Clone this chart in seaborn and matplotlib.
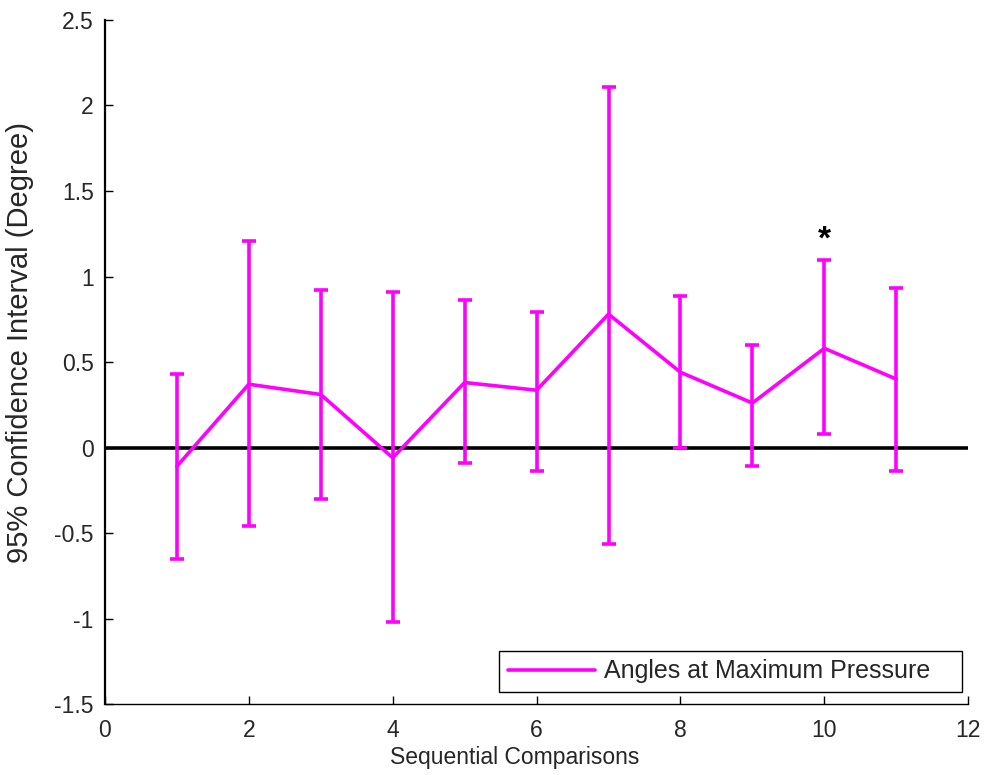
import matplotlib
matplotlib.use("Agg")
import matplotlib.pyplot as plt
import seaborn as sns
import pandas as pd

# Sequential comparison index and 95% CI of the angle difference
comparisons = [1, 2, 3, 4, 5, 6, 7, 8, 9, 10, 11]
mean_diff = [-0.11, 0.37, 0.31, -0.06, 0.38, 0.335, 0.78, 0.44, 0.26, 0.58, 0.40]
ci_upper = [0.43, 1.21, 0.92, 0.91, 0.86, 0.79, 2.11, 0.885, 0.60, 1.095, 0.93]
ci_lower = [-0.65, -0.46, -0.30, -1.02, -0.09, -0.135, -0.565, -0.005, -0.11, 0.08, -0.135]
significant = [10]

x_ticks = [0, 2, 4, 6, 8, 10, 12]
y_ticks = [-1.5, -1, -0.5, 0, 0.5, 1, 1.5, 2, 2.5]
series_label = "Angles at Maximum Pressure"

df = pd.DataFrame({"comparison": comparisons, "mean": mean_diff,
                   "upper": ci_upper, "lower": ci_lower})

sns.set_theme(style="ticks")
plt.rcParams["font.family"] = ["Liberation Sans", "DejaVu Sans"]

fig = plt.figure(figsize=(9.9, 7.75), dpi=100)
ax = fig.add_axes([0.106, 0.0916, 0.872, 0.8826])

magenta = "#FF00FF"

# zero reference line
ax.axhline(0, color="black", lw=2.6, zorder=2)

# confidence interval whiskers
yerr = [df["mean"] - df["lower"], df["upper"] - df["mean"]]
ax.errorbar(df["comparison"], df["mean"], yerr=yerr, fmt="none",
            ecolor=magenta, elinewidth=2.6, capsize=5, capthick=2.6, zorder=3)

# mean line
sns.lineplot(data=df, x="comparison", y="mean", color=magenta, lw=2.6,
             ax=ax, label=series_label, zorder=4)

# significance marker above the upper CI limit
for c in significant:
    row = df[df["comparison"] == c].iloc[0]
    ax.text(c, row["upper"] + 0.118, "*", ha="center", va="center",
            fontsize=24, fontweight="bold", color="black")

ax.set_xlim(0, 12)
ax.set_ylim(-1.5, 2.5)
ax.set_xticks(x_ticks)
ax.set_xticklabels([str(t) for t in x_ticks])
ax.set_yticks(y_ticks)
ax.set_yticklabels([f"{t:g}" for t in y_ticks])
ax.tick_params(direction="in", length=6, width=1, labelsize=16.5, color="black")
ax.tick_params(axis="x", pad=11)
ax.tick_params(axis="y", pad=8)

ax.set_xlabel("Sequential Comparisons", fontsize=16.5, va="top")
ax.xaxis.set_label_coords(0.475, -0.061)
ax.set_ylabel("95% Confidence Interval (Degree)", fontsize=21)
ax.yaxis.set_label_coords(-0.082, 0.528)

sns.despine(ax=ax)
ax.spines["left"].set_linewidth(1.6)
ax.spines["left"].set_color("black")
ax.spines["bottom"].set_linewidth(1.0)
ax.spines["bottom"].set_color("black")

leg = ax.legend(loc="lower left", bbox_to_anchor=(0.4565, 0.0175, 0.5365, 0.067),
                mode="expand", fontsize=18, handlelength=3.5, handletextpad=0.36,
                frameon=True, fancybox=False, framealpha=1,
                edgecolor="black", borderaxespad=0, borderpad=0.35)
leg.get_frame().set_linewidth(1.0)

fig.savefig("out.png", dpi=100, facecolor="white")
